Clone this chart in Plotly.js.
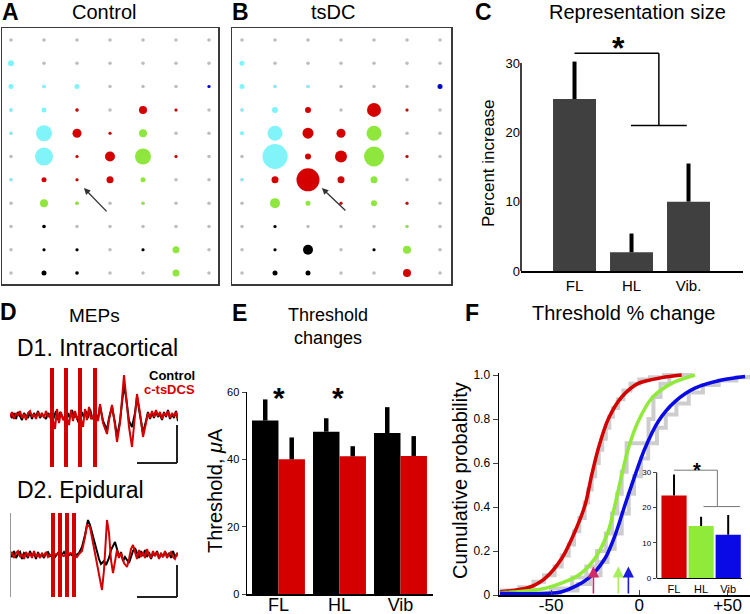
<!DOCTYPE html>
<html><head><meta charset="utf-8">
<script src="https://cdn.plot.ly/plotly-3.0.1.min.js"></script>
<style>html,body{margin:0;padding:0;background:#fff}#chart{width:750px;height:614px}</style>
</head><body><div id="chart"></div>
<script>
// ---------- Panels A & B : motor map sites ----------
const siteCols = [0,1,2,3,4,5,6];
const siteRows = [0,1,2,3,4,5,6,7,8,9,10];
const ctrlRow   = [1, 2,2,2,2, 3,3,3,3,3, 4,4,4,4,4, 5,5,5,5,5, 6,6,6,6,6, 7,7,7, 8, 9,9,9,9, 10,10,10];
const ctrlCol   = [0, 0,1,2,6, 0,1,2,4,5, 0,1,2,3,4, 1,2,3,4,5, 0,1,2,3,4, 1,2,4, 1, 1,2,4,5, 1,2,5];
const ctrlGroup = ['c', 'c','c','c','b', 'c','c','r','r','r', 'c','c','r','r','g', 'c','r','r','g','r', 'c','r','r','r','g', 'g','g','g', 'k', 'k','k','k','g', 'k','k','g'];
const ctrlSize  = [6, 5,3.5,5,3, 3.5,5,3.5,8,3, 3,16,9,3,8, 18,3,10,16,3, 3,5,3,7,5, 8,3.5,3, 3.5, 3,3,3,7, 5,3.5,7];
const tsdcRow   = [1, 2,2,2,2, 3,3,3,3,3, 4,4,4,4,4, 5,5,5,5,5, 6,6,6,6,6, 7,7,7,7,7, 8,8, 9,9,9,9, 10,10,10];
const tsdcCol   = [0, 0,1,2,6, 0,1,2,4,5, 0,1,2,3,4, 1,2,3,4,5, 0,1,2,3,4, 1,2,3,4,5, 1,5, 1,2,4,5, 1,2,5];
const tsdcGroup = ['c', 'c','c','c','b', 'c','c','r','r','r', 'c','c','r','r','g', 'c','r','r','g','r', 'c','r','r','r','g', 'g','g','r','g','r', 'k','g', 'k','k','k','g', 'k','k','r'];
const tsdcSize  = [5, 5,3,3,5, 3,6,6,14,3, 4,15,11,9,15, 25,6,12,20,3, 3,7,23,7,7, 10,5,3,6,3, 3,3, 3,10,3,8, 5,5,8];

// ---------- Panel C : representation size ----------
const repCategories = ['FL','HL','Vib.'];
const repValues = [24.8, 2.7, 10.0];
const repErrPlus = [5.4, 2.7, 5.5];

// ---------- Panel D : MEP traces ----------
const d1CtrlX = [0,2,4,6,8,10,12,14,16,18,20,22,24,26,28,30,32,34,36,38,40,
  42,44,46,48,50,52,54,56,58,60,62,64,66,68,70,72,74,76,78,80,82,84,86,
  88,90,93,97,99,102,105,107,110,112,114,116,119,122,125,127,130,133,136,
  138,140,142,144,146,148,150,152,154,156,158,160,162,164,166,168];
const d1CtrlY = [1,-3,2,-4,3,-1,-5,2,0,-3,3,-4,2,-2,4,-3,1,-2,-4,2,-1,
  -8,-2,4,-5,3,-1,-4,-9,2,-3,5,-2,-1,-6,-10,3,-2,4,-3,6,-2,-5,0,
  -4,9,-6,-15,-3,8,-8,-22,-6,12,30,18,-6,-12,2,18,0,-18,-6,
  3,-4,2,-3,4,-2,1,-5,3,-2,5,-4,1,-3,4,-6];
const d1TsdcX = [0,2,4,6,8,10,12,14,16,18,20,22,24,26,28,30,32,34,36,38,40,
  42,45,47,49,51,53, 56,59,61,63,65,67, 70,73,75,77,79,81, 85,
  88,90,93,97,99,102,105,107,110,112,114,116,119,122,125,127,130,133,136,
  138,140,142,144,146,148,150,152,154,156,158,160,162,164,166,168];
const d1TsdcY = [-2,3,-4,2,-1,4,-3,1,-5,2,4,-2,1,-4,3,-1,2,-3,4,-2,1,
  0,-14,6,-8,3,-5, 0,-10,5,-6,4,-3, 0,-12,6,-5,8,-4, 0,
  -6,11,-8,-19,-5,10,-10,-27,-8,15,40,20,-12,-32,0,21,2,-22,-8,
  2,-3,4,-2,5,-1,3,-4,2,-1,4,-3,2,-1,3,-4];
const d1StimTimes = [42, 56, 70, 85];
const d1StimTop = 47, d1StimBottom = -52;
const d2CtrlX = [0,2,4,6,8,10,12,14,16,18,20,22,24,26,28,30,32,34,36,38,40,
  42,45,48,51,54,57,60,63,66,
  69,72,75,78,80,83,86,89,91,94,96,99,101,103,105,107,109,111,113,115,117,119,121,123,125,
  127,129,131,133,135,137,139,141,143,145,147,149,151,153,155,157,159,161,163,165,167,168];
const d2CtrlY = [2,-2,4,-3,1,3,-4,2,0,-3,4,-1,2,-4,3,-2,1,-3,2,3,-1,
  1,-2,2,-1,3,-2,1,-1,0,
  2,8,20,35,30,18,6,-4,-9,-6,-10,-3,5,9,13,6,-2,3,-6,-2,-5,-8,-2,4,7,
  1,-3,4,-1,5,-2,3,-4,2,-1,4,-3,1,-2,3,-1,2,-3,4,-2,1,-1];
const d2TsdcX = [0,2,4,6,8,10,12,14,16,18,20,22,24,26,28,30,32,34,36,38,40,
  43,46.5,50,53.5,57,60.5,64,
  67,69,72,75,77,80,83,86,89,92,94,96,97,99,101,103,105,107,109,111,114,117,119,121,123,
  125,127,129,131,133,135,137,139,141,143,145,147,149,151,153,155,157,159,161,163,165,167,168];
const d2TsdcY = [-1,3,-3,2,4,-2,1,-4,3,-1,2,-3,4,-2,1,-3,2,-1,3,-2,0,
  0,1,0,-1,0,2,0,
  -2,1,4,18,30,28,12,-5,-20,-35,-15,15,35,22,-5,-18,-6,5,-3,2,-8,-12,-4,6,10,
  2,-4,5,-2,3,-3,6,0,-3,4,-1,3,-4,2,-2,4,-3,1,3,-2,-4,2,-1];
const d2StimTimes = [43, 50, 57, 64];
const d2StimTop = 42, d2StimBottom = -42;

// ---------- Panel E : thresholds ----------
const thrCategories = ['FL','HL','Vib'];
const thrControl = [51.5, 48.2, 47.8];
const thrControlErr = [6.3, 4.0, 7.7];
const thrTsdcs = [40.0, 40.9, 41.0];
const thrTsdcsErr = [6.5, 3.0, 5.9];

// ---------- Panel F : cumulative distributions ----------
const cdfFLx = [-79,-63,-53.4,-43.9,-36.4,-30.7,-27,-23.2,-17.6,-10,-0.6,12.7,24];
const cdfFLy = [0.015,0.033,0.076,0.167,0.29,0.41,0.545,0.667,0.8,0.9,0.962,0.988,1.0];
const cdfHLx = [-79,-53.4,-34.5,-25.1,-17.6,-13.8,-10,-6.2,-0.6,7,18.3,31.5];
const cdfHLy = [0.01,0.03,0.09,0.167,0.29,0.41,0.545,0.667,0.79,0.894,0.962,1.0];
const cdfVibx = [-79,-43.9,-28.9,-19.4,-13.8,-8.1,-2.4,3.2,10.8,20.2,31.5,46.7,59.9];
const cdfViby = [0.008,0.015,0.076,0.167,0.27,0.41,0.545,0.667,0.79,0.879,0.94,0.977,0.993];
const empFLx = [-79,-68,-60,-54,-48,-44,-40,-37,-34,-31,-29,-27,-25,-23,-21,-19,-17,-15,-12,-9,-5,0,6,14,22];
const empFLy = [0.02,0.035,0.06,0.09,0.13,0.18,0.23,0.29,0.35,0.42,0.48,0.54,0.6,0.66,0.71,0.76,0.81,0.85,0.89,0.93,0.96,0.98,0.99,1.0,1.0];
const empHLx = [-79,-50,-38,-30,-24,-19,-15.5,-12.5,-10,-7.2,5.2,8,12,17,30];
const empHLy = [0.01,0.03,0.08,0.13,0.2,0.28,0.37,0.46,0.56,0.69,0.8,0.9,0.96,1.0,1.0];
const empVibx = [-79,-45,-35,-28,-22,-18,-14,-10,-6,-3,1,5,10,15,21,28,36,45,55,62];
const empViby = [0.005,0.02,0.05,0.09,0.15,0.21,0.28,0.37,0.46,0.54,0.62,0.69,0.76,0.82,0.87,0.92,0.955,0.975,0.99,1.0];
const medians = [-26, -11.9, -6.2];
const pctCategories = ['FL','HL','Vib'];
const pctValues = [23.4, 14.8, 12.3];
const pctErrPlus = [6.0, 2.6, 5.6];

// ================= drawing =================
const W = 750, H = 614;
const FONT = 'Liberation Sans, Arial, Helvetica, sans-serif';
const dx = (a,b) => [a/W, b/W];
const dy = (top,bottom) => [1-bottom/H, 1-top/H];
const px = x => x/W, py = y => 1-y/H;
const groupColor = {c:'#80f4f8', r:'#d40000', g:'#8fe63c', k:'#000000', b:'#0000cc'};
const fColors = ['#d40000', '#8fea3a', '#0a0ae6'];
const arrowColors = ['#d42a68', '#a8ef5c', '#1a1ae0'];

const traces = [];
function gridTrace(xa, ya) {
  const gx = [], gy = [];
  siteRows.forEach(r => siteCols.forEach(c => { gx.push(c); gy.push(r); }));
  return {type:'scatter', mode:'markers', x:gx, y:gy, xaxis:xa, yaxis:ya,
    marker:{size:3.5, color:'#bdbdbd', opacity:1}, hoverinfo:'skip'};
}
function siteTrace(rows, cols, groups, sizes, xa, ya) {
  return {type:'scatter', mode:'markers', x:cols, y:rows, xaxis:xa, yaxis:ya,
    marker:{size:sizes, opacity:1, color:groups.map(g => groupColor[g]), line:{width:0}}};
}
traces.push(gridTrace('x','y'), siteTrace(ctrlRow, ctrlCol, ctrlGroup, ctrlSize, 'x','y'));
traces.push(gridTrace('x2','y2'), siteTrace(tsdcRow, tsdcCol, tsdcGroup, tsdcSize, 'x2','y2'));

// C
traces.push({type:'bar', x:repCategories.map((c,i)=>i), y:repValues, width:0.754,
  xaxis:'x3', yaxis:'y3', marker:{color:'#404040'},
  error_y:{type:'data', symmetric:false, array:repErrPlus, arrayminus:[0,0,0], thickness:4, width:0, color:'#000'}});

// D
function stimTrace(times, top, bottom, xa, ya) {
  const x = [], y = [];
  times.forEach(t => { x.push(t, t, null); y.push(top, bottom, null); });
  return {type:'scatter', mode:'lines', x:x, y:y, xaxis:xa, yaxis:ya, line:{color:'#d40000', width:4}, connectgaps:false};
}
traces.push({type:'scatter', mode:'lines', x:d1CtrlX, y:d1CtrlY, xaxis:'x4', yaxis:'y4', line:{color:'#000', width:2}});
traces.push({type:'scatter', mode:'lines', x:d1TsdcX, y:d1TsdcY, xaxis:'x4', yaxis:'y4', line:{color:'#d40000', width:2}});
traces.push(stimTrace(d1StimTimes, d1StimTop, d1StimBottom, 'x4', 'y4'));
traces.push({type:'scatter', mode:'lines', x:d2CtrlX, y:d2CtrlY, xaxis:'x5', yaxis:'y5', line:{color:'#000', width:2}});
traces.push({type:'scatter', mode:'lines', x:d2TsdcX, y:d2TsdcY, xaxis:'x5', yaxis:'y5', line:{color:'#d40000', width:2}});
traces.push(stimTrace(d2StimTimes, d2StimTop, d2StimBottom, 'x5', 'y5'));

// E
traces.push({type:'bar', x:thrCategories.map((c,i)=>i), y:thrControl, width:0.434, offset:-0.434,
  xaxis:'x6', yaxis:'y6', marker:{color:'#000'},
  error_y:{type:'data', symmetric:false, array:thrControlErr, arrayminus:[0,0,0], thickness:4.5, width:0, color:'#000'}});
traces.push({type:'bar', x:thrCategories.map((c,i)=>i), y:thrTsdcs, width:0.434, offset:0,
  xaxis:'x6', yaxis:'y6', marker:{color:'#d40000'},
  error_y:{type:'data', symmetric:false, array:thrTsdcsErr, arrayminus:[0,0,0], thickness:4.5, width:0, color:'#000'}});

// F
[[empFLx,empFLy],[empHLx,empHLy],[empVibx,empViby]].forEach(([x,y]) => traces.push({
  type:'scatter', mode:'lines', x:x, y:y, xaxis:'x7', yaxis:'y7', line:{color:'#cdcdcd', width:4, shape:'hv'}}));
[[cdfFLx,cdfFLy],[cdfHLx,cdfHLy],[cdfVibx,cdfViby]].forEach(([x,y],i) => traces.push({
  type:'scatter', mode:'lines', x:x, y:y, xaxis:'x7', yaxis:'y7', line:{color:fColors[i], width:3.5, shape:'spline', smoothing:0.8}}));
traces.push({type:'bar', x:pctCategories.map((c,i)=>i), y:pctValues, width:0.93,
  xaxis:'x8', yaxis:'y8', marker:{color:fColors},
  error_y:{type:'data', symmetric:false, array:pctErrPlus, arrayminus:[0,0,0], thickness:2, width:0, color:'#000'}});

const boxAxis = {showline:true, mirror:true, linecolor:'#3a3a3a', linewidth:1.5, showticklabels:false,
  ticks:'', showgrid:false, zeroline:false};
const plain = {showgrid:false, zeroline:false};

function ann(text, x, y, size, extra) {
  return Object.assign({xref:'paper', yref:'paper', x:px(x), y:py(y), text:text, showarrow:false,
    xanchor:'center', yanchor:'middle', font:{family:FONT, size:size, color:'#000'}}, extra || {});
}
const annotations = [
  ann('<b>A</b>', 10, 12, 23), ann('Control', 104, 12, 20),
  ann('<b>B</b>', 240, 12, 23), ann('tsDC', 333, 12, 20),
  ann('<b>C</b>', 483, 12, 23), ann('Representation size', 637, 12, 20),
  ann('Percent increase', 488, 163, 17, {textangle:-90}),
  ann('<b>*</b>', 618, 48, 32),
  ann('<b>D</b>', 8, 312, 23), ann('MEPs', 94, 315, 19),
  ann('D1. Intracortical', 15, 348, 23, {xanchor:'left'}),
  ann('D2. Epidural', 15, 490, 23, {xanchor:'left'}),
  ann('<b>Control</b>', 197, 375, 13, {xanchor:'right'}),
  ann('<b>c-tsDCS</b>', 197, 390, 13, {xanchor:'right', font:{family:FONT, size:13, color:'#d40000'}}),
  ann('<b>E</b>', 239, 313, 23), ann('Threshold', 328, 315, 18), ann('changes', 328, 338, 18),
  ann('Threshold, <i>\u03bc</i>A', 215, 491, 20, {textangle:-90}),
  ann('<b>*</b>', 279, 397, 30), ann('<b>*</b>', 338, 397, 30),
  ann('<b>F</b>', 472, 313, 23), ann('Threshold % change', 623, 313, 20),
  ann('Cumulative probability', 460, 480, 20, {textangle:-90}),
  ann('<b>*</b>', 697, 470, 20),
  {xref:'x', yref:'y', x:2.21, y:6.35, ax:2.94, ay:7.42, axref:'x', ayref:'y', text:'', showarrow:true,
    arrowhead:2, arrowsize:1, arrowwidth:1.3, arrowcolor:'#333', standoff:0},
  {xref:'x2', yref:'y2', x:2.42, y:6.35, ax:3.18, ay:7.38, axref:'x2', ayref:'y2', text:'', showarrow:true,
    arrowhead:2, arrowsize:1, arrowwidth:1.3, arrowcolor:'#333', standoff:0}
];
medians.forEach((m,i) => annotations.push({xref:'x7', yref:'y7', x:m, y:0.13, ax:m, ay:0, axref:'x7', ayref:'y7',
  text:'', showarrow:true, arrowhead:2, arrowsize:1.4, arrowwidth:1.6, arrowcolor:arrowColors[i], standoff:0}));

const shapes = [
  {type:'line', xref:'paper', yref:'paper', x0:px(521), x1:px(521), y0:py(271), y1:py(63), line:{color:'#000', width:1.5}},
  {type:'line', xref:'x3', yref:'y3', x0:0, x1:1.48, y0:31.4, y1:31.4, line:{color:'#000', width:1.5}},
  {type:'line', xref:'x3', yref:'y3', x0:1.48, x1:1.48, y0:31.4, y1:21, line:{color:'#000', width:1.5}},
  {type:'line', xref:'x3', yref:'y3', x0:0.99, x1:1.97, y0:21, y1:21, line:{color:'#000', width:1.5}},
  {type:'line', xref:'x4', yref:'y4', x0:167, x1:167, y0:-10, y1:-48, line:{color:'#222', width:2}},
  {type:'line', xref:'x4', yref:'y4', x0:127, x1:167, y0:-48, y1:-48, line:{color:'#222', width:2}},
  {type:'line', xref:'x5', yref:'y5', x0:167, x1:167, y0:-10, y1:-42, line:{color:'#222', width:2}},
  {type:'line', xref:'x5', yref:'y5', x0:127, x1:167, y0:-42, y1:-42, line:{color:'#222', width:2}},
  {type:'line', xref:'paper', yref:'paper', x0:px(10.5), x1:px(10.5), y0:py(513), y1:py(597), line:{color:'#999', width:1}},
  {type:'line', xref:'paper', yref:'paper', x0:px(656.7), x1:px(656.7), y0:py(578.3), y1:py(472.3), line:{color:'#000', width:1}},
  {type:'line', xref:'x8', yref:'y8', x0:0, x1:1.6, y0:30.6, y1:30.6, line:{color:'#777', width:1}},
  {type:'line', xref:'x8', yref:'y8', x0:1.6, x1:1.6, y0:30.6, y1:20.3, line:{color:'#777', width:1}},
  {type:'line', xref:'x8', yref:'y8', x0:1.09, x1:2.44, y0:20.3, y1:20.3, line:{color:'#777', width:1}}
];

const layout = {
  width:W, height:H, margin:{l:0,r:0,t:0,b:0}, paper_bgcolor:'#fff', plot_bgcolor:'rgba(0,0,0,0)',
  showlegend:false, barmode:'overlay', font:{family:FONT, color:'#000'},
  xaxis: Object.assign({}, boxAxis, {domain:dx(2,218), range:[-0.273,6.273], anchor:'y'}),
  yaxis: Object.assign({}, boxAxis, {domain:dy(28,284), range:[10.47,-0.515], anchor:'x'}),
  xaxis2: Object.assign({}, boxAxis, {domain:dx(232,451), range:[-0.303,6.333], anchor:'y2'}),
  yaxis2: Object.assign({}, boxAxis, {domain:dy(28,284), range:[10.47,-0.515], anchor:'x2'}),
  xaxis3: Object.assign({}, plain, {domain:dx(521,743), range:[-0.939,2.956], anchor:'y3', showline:true,
    linecolor:'#000', linewidth:1.5, ticks:'', tickvals:[0,1,2], ticktext:repCategories, tickfont:{size:15}}),
  yaxis3: Object.assign({}, plain, {domain:dy(49.1,271), range:[0,32], anchor:'x3', showline:false, ticks:'',
    tickvals:[0,10,20,30], tickfont:{size:13}}),
  xaxis4: {domain:dx(10,178), range:[0,168], visible:false, anchor:'y4'},
  yaxis4: {domain:dy(365,470), range:[-55,50], visible:false, anchor:'x4'},
  xaxis5: {domain:dx(10,178), range:[0,168], visible:false, anchor:'y5'},
  yaxis5: {domain:dy(510,600), range:[-45,45], visible:false, anchor:'x5'},
  xaxis6: Object.assign({}, plain, {domain:dx(247,433), range:[-0.516,2.533], anchor:'y6', showline:true,
    linecolor:'#000', linewidth:1.5, ticks:'', tickvals:[0,1,2], ticktext:thrCategories, tickfont:{size:18},
    ticklabelstandoff:-6}),
  yaxis6: Object.assign({}, plain, {domain:dy(392,594), range:[0,60], anchor:'x6', showline:true,
    linecolor:'#000', linewidth:1.5, ticks:'outside', ticklen:4, tickvals:[0,20,40,60], tickfont:{size:11}}),
  xaxis7: Object.assign({}, plain, {domain:dx(499,750), range:[-79.5,62.7], anchor:'y7', showline:true,
    linecolor:'#000', linewidth:1.5, ticks:'inside', ticklen:5, tickvals:[-50,0,50], ticktext:['-50','0','+50'],
    tickfont:{size:17}, ticklabelstandoff:-6}),
  yaxis7: Object.assign({}, plain, {domain:dy(372.8,595), range:[0,1.01], anchor:'x7', showline:true,
    linecolor:'#000', linewidth:1.5, ticks:'outside', ticklen:5, tickvals:[0,0.2,0.4,0.6,0.8,1.0],
    ticktext:['0','0.2','0.4','0.6','0.8','1.0'], tickfont:{size:12}}),
  xaxis8: Object.assign({}, plain, {domain:dx(656.7,742), range:[-0.64,2.51], anchor:'y8', showline:true,
    linecolor:'#000', linewidth:1, ticks:'', tickvals:[0,1,2], ticktext:pctCategories, tickfont:{size:11}}),
  yaxis8: Object.assign({}, plain, {domain:dy(467,578.3), range:[0,31.5], anchor:'x8', showline:false,
    ticks:'outside', ticklen:3, tickvals:[0,10,20,30], tickfont:{size:8}}),
  annotations: annotations,
  shapes: shapes
};
Plotly.newPlot('chart', traces, layout, {displayModeBar:false, staticPlot:true});
</script></body></html>
